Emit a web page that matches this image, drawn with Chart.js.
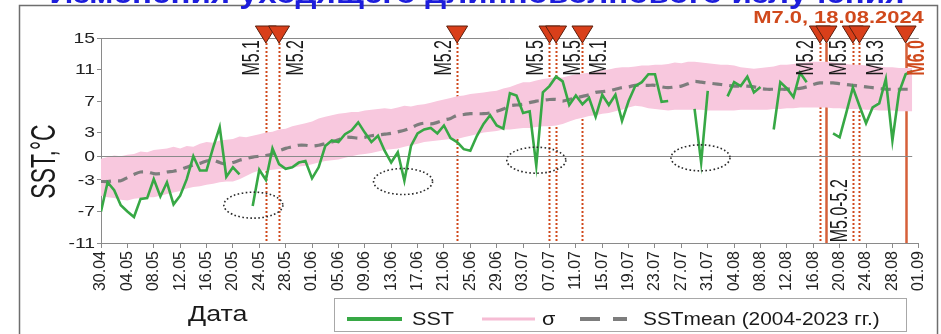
<!DOCTYPE html>
<html>
<head>
<meta charset="utf-8">
<script src="https://cdn.jsdelivr.net/npm/chart.js@4/dist/chart.umd.min.js"></script>
<style>
  html, body { margin: 0; padding: 0; background: #fff; }
  canvas { display: block; }
</style>
</head>
<body>
<canvas id="c" width="941" height="334"></canvas>
<script>
// Tick labels every 4 days, starting 30.04 (day 0) up to 01.09 (day 124)
const tickLabels = ['30.04','04.05','08.05','12.05','16.05','20.05','24.05','28.05','01.06','05.06',
  '09.06','13.06','17.06','21.06','25.06','29.06','03.07','07.07','11.07','15.07','19.07','23.07',
  '27.07','31.07','04.08','08.08','12.08','16.08','20.08','24.08','28.08','01.09'];

const yTickValues = [-11, -7, -3, 0, 3, 7, 11, 15];

// Daily SST, 2024 (day 0 = 30.04); null = no observation
const sst = [
  -7.0,-3.3,-4.3,-6.2,-7.0,-7.7,-5.4,-5.3,-2.9,-5.1,
  -3.3,-6.1,-5.0,-2.9, 0.0,-1.8,-1.8, 1.1, 3.7,-2.6,
  -1.4,-2.3, null,-6.3,-1.7,-3.0, 1.0,-1.0,-1.6,-1.4,
  -0.8,-0.6,-2.8,-1.4, 1.3, 2.0, 1.8, 2.8, 3.3, 4.3,
   3.0, 1.8, 2.6, 0.7,-0.8, 0.5,-3.1, 1.3, 2.9, 3.4,
   3.6, 2.9, 3.9, 2.3, 1.8, 0.9, 0.7, 2.6, 4.1, 5.2,
   3.9, 3.5, 8.0, 7.7, 5.5, 5.7,-1.2, 8.1, 8.9,10.1,
   9.5, 6.5, 7.7, 6.6, 7.4, 5.0, 7.8, 6.5, 7.8, 4.5,
   7.0, 8.9, 9.4,10.4,10.4, 6.9, 7.0, null, null, null,
   6.0,-0.8, 8.3, null, null, 7.6, 9.4, 8.9,10.1, 8.1,
   8.8, null, 3.4, 9.4, 8.6, 7.5,10.6, 9.4, null, null,
   null, 2.9, 2.4, 5.5, 8.7, 6.4, 4.2, 6.2, 6.7, 9.8,
   2.0, 8.1,10.4,10.8
];

// Climatological mean SST, 2004-2023
const sstMean = [
  -3.2,-3.2,-3.1,-3.1,-2.7,-2.3,-2.0,-2.0,-2.2,-2.2,
  -2.0,-1.9,-1.7,-1.4,-1.1,-0.9,-0.6,-0.5,-0.8,-1.0,
  -0.8,-0.5,-0.3,-0.1, 0.0, 0.1, 0.3, 0.7, 1.0, 1.2,
   1.4, 1.4, 1.3, 1.4, 1.6, 1.8, 2.1, 2.4, 2.4, 2.3,
   2.4, 2.6, 2.7, 2.8, 2.9, 3.1, 3.3, 3.6, 4.0, 4.2,
   4.1, 4.3, 4.6, 4.8, 5.2, 5.3, 5.4, 5.4, 5.4, 5.5,
   5.7, 6.0, 6.4, 6.5, 6.6, 6.8, 7.0, 7.1, 7.2, 7.2,
   7.0, 7.2, 7.4, 7.6, 7.8, 8.1, 8.2, 8.3, 8.5, 8.7,
   8.8, 9.0, 9.0, 9.0, 9.0, 8.8, 8.7, 8.8, 8.9, 9.2,
   9.5, 9.4, 9.3, 9.2, 9.1, 9.0, 8.9, 8.9, 8.9, 8.8,
   8.6, 8.5, 8.5, 8.5, 8.5, 8.6, 8.6, 8.8, 9.1, 9.3,
   9.3, 9.3, 9.2, 9.1, 9.0, 8.9, 8.8, 8.7, 8.6, 8.5,
   8.5, 8.5, 8.5, 8.5
];

// Upper and lower edges of the ±σ band
const sigmaUpper = [
  -0.3,-0.1, 0.1, 0.0, 0.2, 0.3, 0.6, 0.5, 0.8, 0.9,
   1.0, 1.2, 1.0, 1.3, 1.2, 1.6, 1.8, 1.7, 2.0, 2.1,
   2.2, 2.5, 2.4, 2.6, 2.8, 3.0, 3.1, 3.4, 3.5, 3.8,
   4.0, 4.2, 4.4, 4.8, 5.0, 5.2, 5.4, 5.5, 5.6, 5.6,
   5.8, 5.9, 6.0, 6.1, 6.0, 6.2, 6.4, 6.3, 6.5, 6.6,
   6.8, 7.0, 7.2, 7.4, 7.6, 7.7, 7.9, 8.0, 8.1, 8.2,
   8.3, 8.6, 8.8, 9.1, 9.4, 9.4, 9.6, 9.8, 9.9,10.0,
  10.0,10.2,10.4,10.5,10.6,10.7,10.9,11.0,11.2,11.3,
  11.3,11.4,11.5,11.5,11.6,11.6,11.7,11.9,11.8,12.0,
  12.0,11.9,11.8,11.7,11.6,11.6,11.5,11.3,11.2,11.1,
  11.2,11.3,11.4,11.6,11.6,11.7,11.8,11.9,12.0,12.0,
  12.0,11.9,11.8,11.7,11.6,11.6,11.5,11.5,11.4,11.3,
  11.3,11.2,11.2,11.2
];
const sigmaLower = [
  -5.0,-5.2,-5.3,-5.5,-5.6,-5.4,-5.3,-5.2,-5.2,-5.0,
  -4.8,-4.6,-4.4,-4.1,-3.9,-3.8,-3.6,-3.5,-3.3,-3.2,
  -3.2,-2.9,-2.5,-2.1,-1.8,-1.8,-1.7,-1.6,-1.6,-1.5,
  -1.3,-1.2,-1.0,-0.8,-0.6,-0.5,-0.4,-0.2, 0.0, 0.2,
   0.3, 0.4, 0.6, 0.8, 0.9, 1.0, 1.2, 1.4, 1.6, 1.8,
   1.9, 2.0, 2.1, 2.2, 2.2, 2.4, 2.6, 2.8, 3.0, 3.1,
   3.2, 3.4, 3.4, 3.5, 3.6, 3.6, 3.7, 3.8, 3.8, 3.9,
   4.1, 4.4, 4.7, 4.9, 5.1, 5.2, 5.4, 5.5, 5.7, 5.9,
   6.2, 6.4, 6.3, 6.1, 6.0, 5.9, 5.8, 5.9, 5.9, 5.9,
   5.9, 5.9, 5.8, 5.8, 5.8, 5.8, 5.8, 5.9, 5.9, 5.9,
   5.9, 5.9, 6.0, 6.0, 6.1, 6.1, 6.2, 6.2, 6.2, 6.2,
   6.2, 6.1, 6.1, 6.0, 6.0, 6.0, 5.9, 5.9, 5.8, 5.8,
   5.8, 5.7, 5.7, 5.7
];

// Earthquakes: day index, magnitude label, main shocks drawn solid
const quakeDays   = [25, 27, 54, 68, 69, 73, 109, 110, 114, 115, 122];
const quakeLabels = ['M5.1','M5.2','M5.2','M5.5','M5.5','M5.1','M5.2','','M5.5','M5.3','M6.0'];
const quakeMajor  = [false,false,false,false,false,false,false,true,false,false,true];
const quakeSide   = [-1, 1, -1, -1, 1, 1, -1, 0, -1, 1, 1];
const mainShockText = 'M7.0, 18.08.2024';
const swarmText = 'M5.0-5.2';
const swarmAt = [110, -2.9];

// Negative SST anomalies circled on the chart: [day, °C]
const anomalyRings = [[23.1, -6.2], [45.8, -3.2], [66.0, -0.5], [90.9, -0.2]];

const titleText = 'Изменения уходящего длинноволнового излучения';
const yTitle = 'SST,°C';
const xTitle = 'Дата';
const legendItems = ['SST', 'σ', 'SSTmean (2004-2023 гг.)'];

const FONT = "'Liberation Sans', Arial, sans-serif";
const C_GREEN = '#37a845';
const C_PINK = '#f8c8de';
const C_MEAN = '#7d7d7d';
const C_AXIS = '#8a8a8a';
const C_QUAKE = '#d0491c';
const C_QUAKE_SOLID = '#d6603a';

function drawText(ctx, s, x, y, o) {
  ctx.save();
  ctx.translate(x, y);
  if (o.rot) ctx.rotate(o.rot);
  ctx.scale(o.sx || 1, o.sy || 1);
  ctx.font = o.font;
  ctx.fillStyle = o.color || '#1a1a1a';
  ctx.textAlign = o.align || 'left';
  ctx.textBaseline = o.base || 'alphabetic';
  ctx.fillText(s, 0, 0);
  ctx.restore();
}

const decor = {
  id: 'sstDecor',
  beforeDraw(chart) {
    const ctx = chart.ctx;
    ctx.save();
    ctx.fillStyle = '#fff';
    ctx.fillRect(0, 0, chart.width, chart.height);
    // outer frame
    ctx.strokeStyle = '#6e6e6e';
    ctx.lineWidth = 1.5;
    ctx.strokeRect(19.5, 5.5, 918, 400);
    ctx.restore();
    // heading (cropped at the top edge)
    ctx.save();
    ctx.font = 'bold 30px ' + FONT;
    const w = ctx.measureText(titleText).width;
    ctx.restore();
    drawText(ctx, titleText, 477, 2.5, { font: 'bold 30px ' + FONT, color: '#1d1ddc', align: 'center', sx: 855 / w });
  },
  beforeDatasetsDraw(chart) {
    const ctx = chart.ctx, xs = chart.scales.x, area = chart.chartArea;
    ctx.save();
    quakeDays.forEach((d, i) => {
      const x = Math.round(xs.getPixelForValue(d)) + 0.5;
      ctx.beginPath();
      if (quakeMajor[i]) {
        ctx.setLineDash([]);
        ctx.strokeStyle = C_QUAKE_SOLID;
        ctx.lineWidth = 2.5;
      } else {
        ctx.setLineDash([2, 2]);
        ctx.strokeStyle = C_QUAKE;
        ctx.lineWidth = 2;
      }
      ctx.moveTo(x, area.top + 5);
      ctx.lineTo(x, area.bottom);
      ctx.stroke();
    });
    ctx.restore();
  },
  afterDatasetDraw(chart, args) {
    // zero line sits over the σ band, under the curves
    if (args.index !== 2) return;
    const ctx = chart.ctx, xs = chart.scales.x, ys = chart.scales.y;
    const y = Math.round(ys.getPixelForValue(0)) + 0.5;
    ctx.save();
    ctx.strokeStyle = C_AXIS;
    ctx.lineWidth = 1.2;
    ctx.beginPath();
    ctx.moveTo(xs.getPixelForValue(0), y);
    ctx.lineTo(xs.getPixelForValue(sst.length - 1), y);
    ctx.stroke();
    ctx.restore();
  },
  afterDatasetsDraw(chart) {
    const ctx = chart.ctx, xs = chart.scales.x, ys = chart.scales.y;
    ctx.save();
    ctx.strokeStyle = '#2a2a2a';
    ctx.lineWidth = 1.6;
    ctx.setLineDash([1.6, 2.4]);
    anomalyRings.forEach(([d, v]) => {
      const cx = xs.getPixelForValue(d), cy = ys.getPixelForValue(v);
      ctx.beginPath();
      ctx.ellipse(cx, cy, 29.5, 13, 0, 0, Math.PI * 2);
      ctx.stroke();
    });
    ctx.restore();
  },
  afterDraw(chart) {
    const ctx = chart.ctx, xs = chart.scales.x, ys = chart.scales.y, area = chart.chartArea;
    ctx.save();
    // top frame of the plot
    ctx.strokeStyle = C_AXIS;
    ctx.lineWidth = 1;
    ctx.beginPath();
    ctx.moveTo(area.left, Math.round(area.top) + 0.5);
    ctx.lineTo(area.right, Math.round(area.top) + 0.5);
    ctx.stroke();

    // earthquake markers and labels
    quakeDays.forEach((d, i) => {
      const x = xs.getPixelForValue(d);
      const tip = area.top + 5;
      ctx.beginPath();
      ctx.moveTo(x - 10.5, tip - 17);
      ctx.lineTo(x + 10.5, tip - 17);
      ctx.lineTo(x, tip);
      ctx.closePath();
      ctx.fillStyle = '#d93f1a';
      ctx.fill();
      ctx.strokeStyle = '#5b1e0c';
      ctx.lineWidth = 1;
      ctx.stroke();
    });
    quakeDays.forEach((d, i) => {
      if (!quakeLabels[i]) return;
      const x = xs.getPixelForValue(d);
      const major = quakeMajor[i];
      const off = major ? 10 : 15;
      const cx = x + quakeSide[i] * off;
      drawText(ctx, quakeLabels[i], cx + 8.6, area.top + 2, {
        font: (major ? 'bold ' : '') + '16px ' + FONT,
        color: major ? C_QUAKE : '#1a1a1a',
        rot: -Math.PI / 2, sy: 1.5, align: 'right'
      });
    });
    drawText(ctx, swarmText, xs.getPixelForValue(swarmAt[0]) + 21, ys.getPixelForValue(swarmAt[1]), {
      font: '16px ' + FONT, color: '#1a1a1a', rot: -Math.PI / 2, sy: 1.5, align: 'right'
    });
    drawText(ctx, mainShockText, area.right + 5, 23, {
      font: 'bold 16px ' + FONT, color: C_QUAKE, align: 'right', sx: 1.37
    });

    // y tick labels
    yTickValues.forEach(v => {
      drawText(ctx, String(v), 95, ys.getPixelForValue(v) + 1, {
        font: '14px ' + FONT, color: '#222', align: 'right', base: 'middle', sx: 1.38
      });
    });

    // axis titles
    drawText(ctx, yTitle, 55, 161.5, { font: '23px ' + FONT, color: '#1a1a1a', rot: -Math.PI / 2, sy: 1.5, align: 'center' });
    drawText(ctx, xTitle, 188, 321, { font: '22px ' + FONT, color: '#1a1a1a', sx: 1.22 });

    // legend
    ctx.strokeStyle = '#a8a8a8';
    ctx.lineWidth = 1;
    ctx.setLineDash([]);
    ctx.strokeRect(334.5, 298.5, 572, 33);
    const ly = 319;
    ctx.lineWidth = 4;
    ctx.strokeStyle = C_GREEN;
    ctx.beginPath(); ctx.moveTo(347, ly); ctx.lineTo(402, ly); ctx.stroke();
    drawText(ctx, legendItems[0], 412, ly + 6, { font: '18px ' + FONT, color: '#1a1a1a', sx: 1.2 });
    ctx.lineWidth = 3;
    ctx.strokeStyle = '#f6bcd4';
    ctx.beginPath(); ctx.moveTo(482, ly); ctx.lineTo(535, ly); ctx.stroke();
    drawText(ctx, legendItems[1], 542, ly + 6, { font: '18px ' + FONT, color: '#1a1a1a', sx: 1.2 });
    ctx.lineWidth = 4;
    ctx.strokeStyle = C_MEAN;
    ctx.beginPath(); ctx.moveTo(580, ly); ctx.lineTo(600, ly); ctx.moveTo(613, ly); ctx.lineTo(627, ly); ctx.stroke();
    drawText(ctx, legendItems[2], 643, ly + 6, { font: '18px ' + FONT, color: '#1a1a1a', sx: 1.16 });
    ctx.restore();
  }
};

const pts = arr => arr.map((v, i) => ({ x: i, y: v }));

new Chart(document.getElementById('c'), {
  type: 'line',
  data: {
    datasets: [
      { label: 'SST', data: pts(sst), borderColor: C_GREEN, borderWidth: 2.6, pointRadius: 0,
        spanGaps: false, tension: 0, fill: false, order: 1 },
      { label: 'SSTmean', data: pts(sstMean), borderColor: C_MEAN, borderWidth: 3.2, borderDash: [10, 7],
        pointRadius: 0, tension: 0.3, fill: false, order: 2 },
      { label: 'σ+', data: pts(sigmaUpper), borderWidth: 0, borderColor: 'rgba(0,0,0,0)', pointRadius: 0,
        backgroundColor: C_PINK, fill: '+1', tension: 0, order: 10 },
      { label: 'σ-', data: pts(sigmaLower), borderWidth: 0, borderColor: 'rgba(0,0,0,0)', pointRadius: 0,
        fill: false, tension: 0, order: 11 }
    ]
  },
  options: {
    responsive: false,
    animation: false,
    devicePixelRatio: 1,
    layout: { padding: { left: 0, top: 38, right: 20, bottom: 0 } },
    plugins: { legend: { display: false }, title: { display: false }, tooltip: { enabled: false } },
    scales: {
      x: {
        type: 'linear', min: 0, max: 124,
        afterFit: s => { s.height = 91; },
        grid: { drawOnChartArea: false, tickLength: 5, color: C_AXIS },
        border: { display: true, color: C_AXIS, width: 1 },
        ticks: {
          stepSize: 4, autoSkip: false, minRotation: 90, maxRotation: 90, padding: 3,
          color: '#222', font: { family: FONT, size: 16 },
          callback: v => tickLabels[Math.round(v / 4)]
        }
      },
      y: {
        type: 'linear', min: -11, max: 15,
        afterFit: s => { s.width = 101; },
        afterBuildTicks: s => { s.ticks = yTickValues.map(v => ({ value: v })); },
        grid: { drawOnChartArea: false, tickLength: 4, color: C_AXIS },
        border: { display: true, color: C_AXIS, width: 1 },
        ticks: { display: false }
      }
    }
  },
  plugins: [decor]
});
</script>
</body>
</html>
